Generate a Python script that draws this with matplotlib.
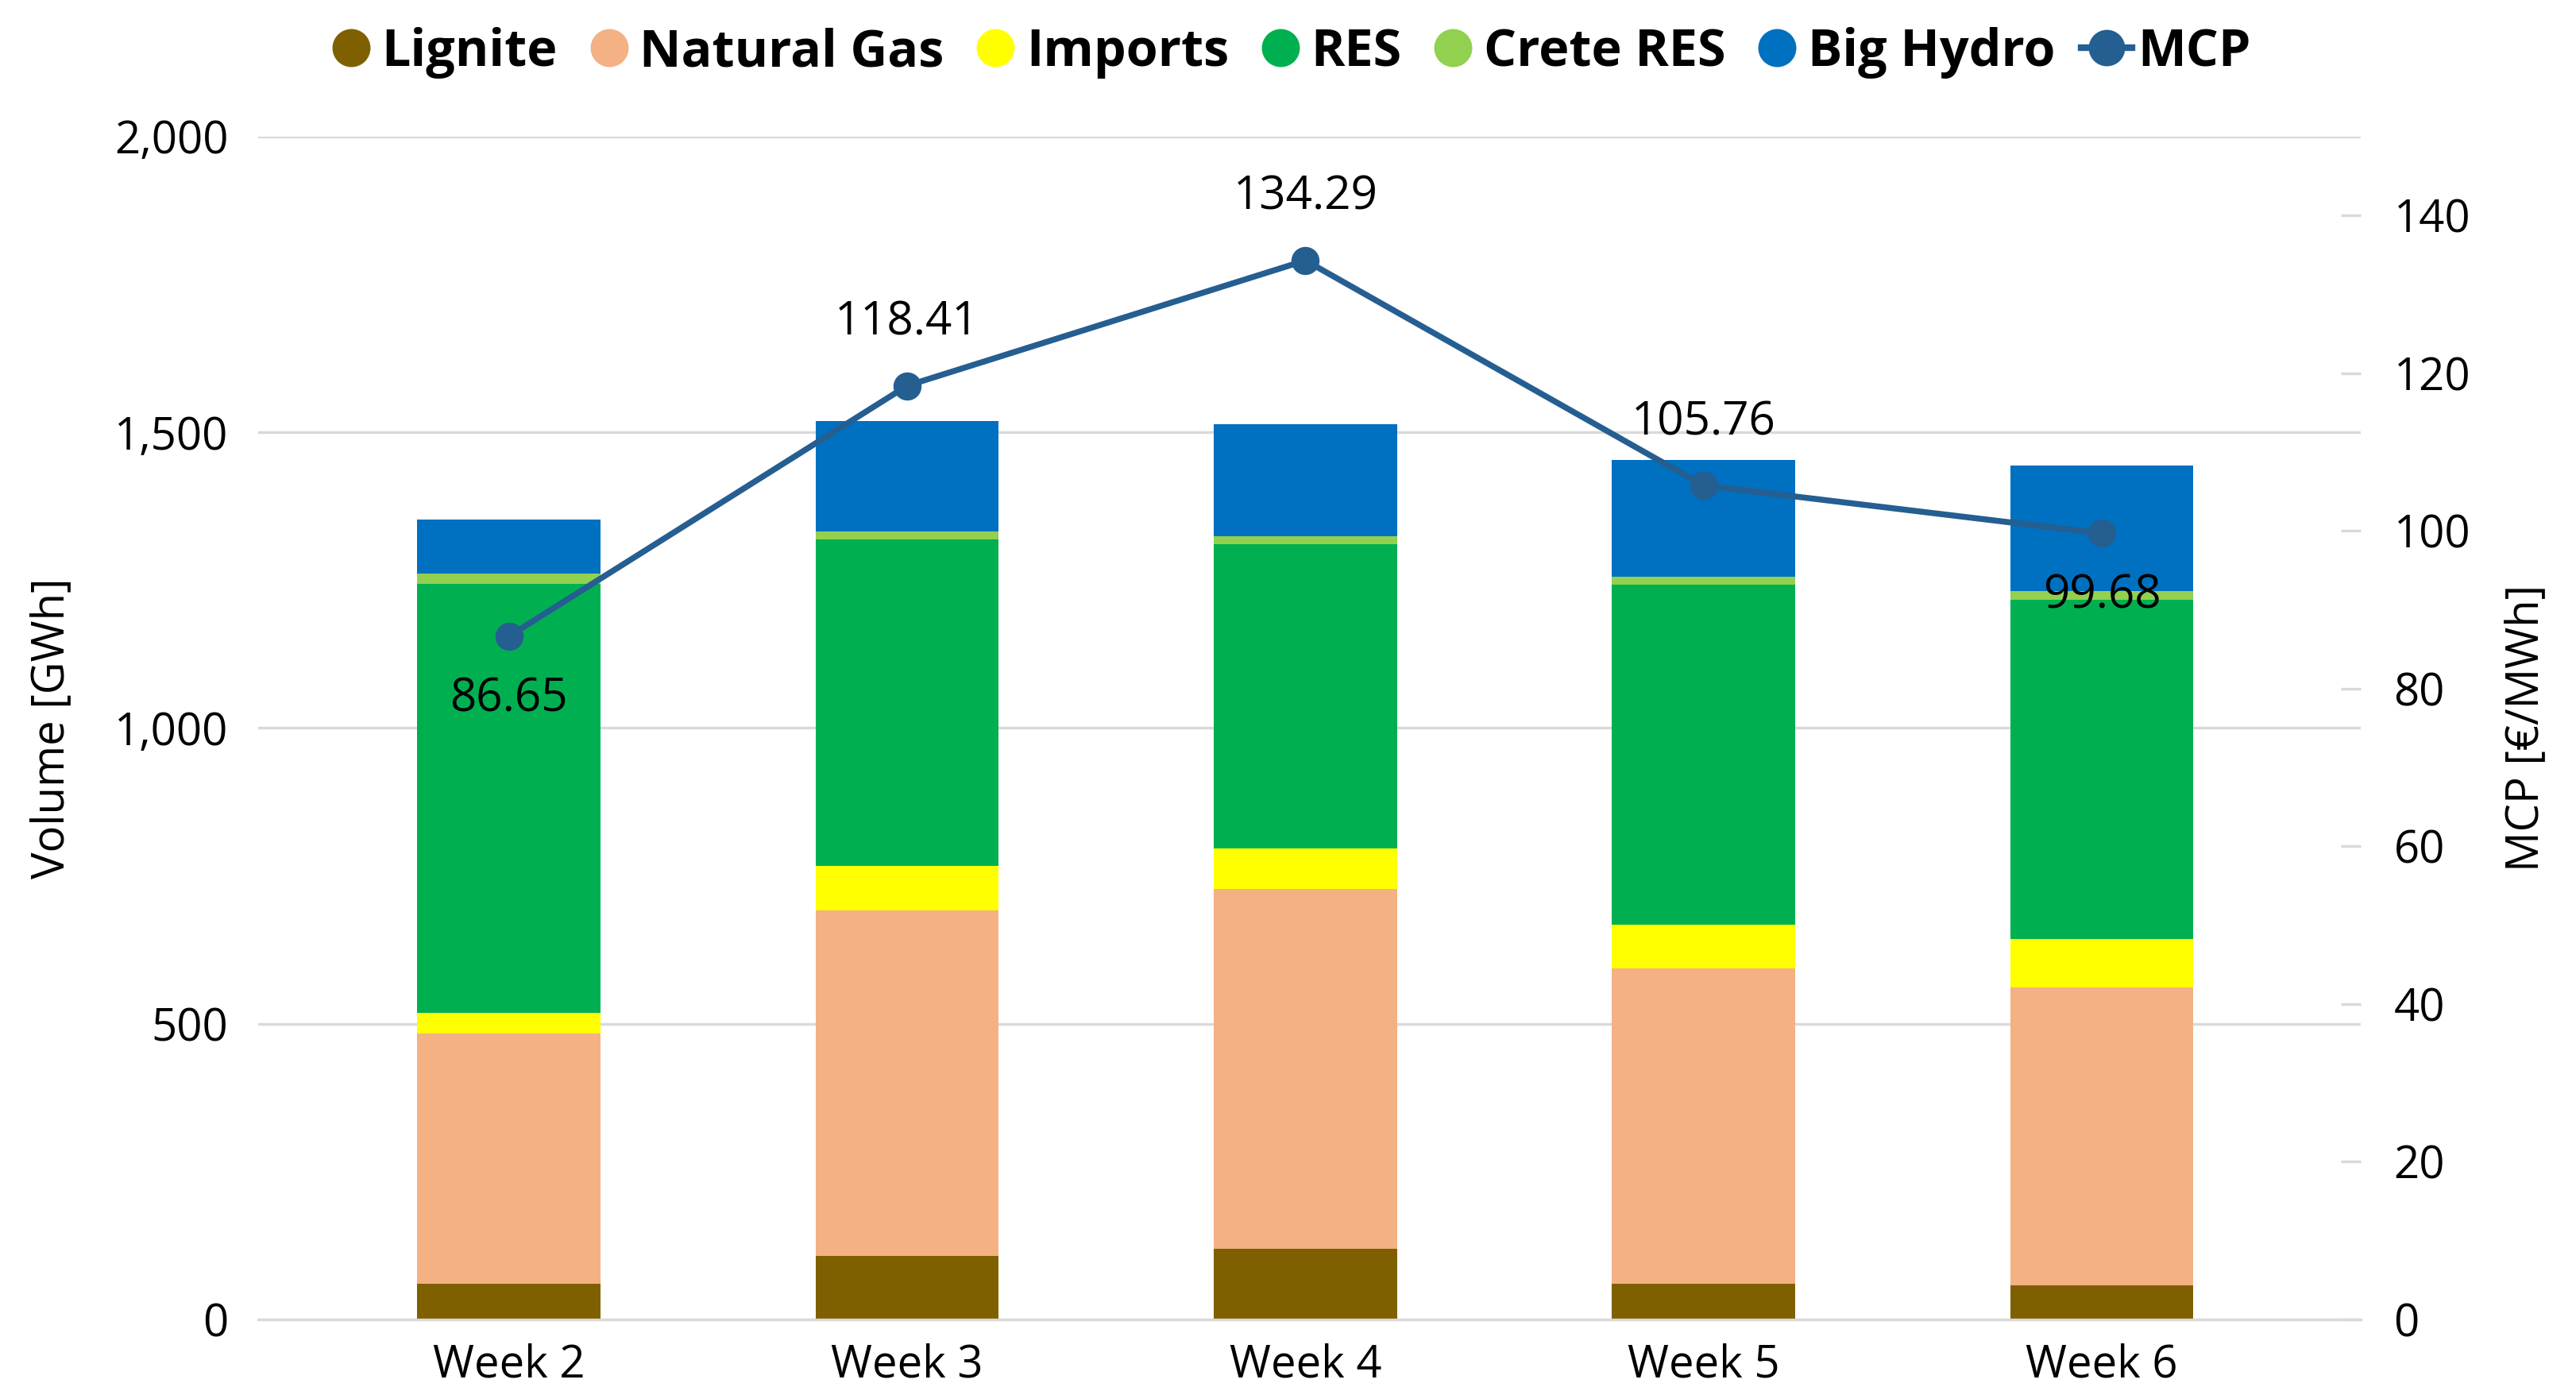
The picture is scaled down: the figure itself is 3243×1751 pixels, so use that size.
import numpy as np
import matplotlib
matplotlib.use("Agg")
import matplotlib.pyplot as plt
from matplotlib.lines import Line2D
from matplotlib.ticker import FuncFormatter

plt.rcParams['font.family'] = ['Open Sans', 'DejaVu Sans']

weeks = ['Week 2', 'Week 3', 'Week 4', 'Week 5', 'Week 6']
lignite = [61, 108, 119, 61, 58]
natural_gas = [422, 584, 609, 533, 503]
imports = [36, 75, 69, 73, 83]
res = [725, 552, 514, 575, 573]
crete_res = [17, 14, 14, 14, 14]
big_hydro = [92, 186, 189, 197, 213]
mcp = [86.65, 118.41, 134.29, 105.76, 99.68]

series = [
    ('Lignite', lignite, '#7F6000'),
    ('Natural Gas', natural_gas, '#F4B183'),
    ('Imports', imports, '#FFFF00'),
    ('RES', res, '#00B050'),
    ('Crete RES', crete_res, '#92D050'),
    ('Big Hydro', big_hydro, '#0070C0'),
]
line_color = '#255E91'
grid_color = '#D9D9D9'
fs = 13.5

fig = plt.figure(figsize=(3243 / 300, 1751 / 300), dpi=300)
ax = fig.add_axes([0.1002, 0.0514, 0.8162, 0.8504])
ax2 = ax.twinx()

x = np.arange(len(weeks))
bottom = np.zeros(len(weeks))
for name, vals, col in series:
    ax.bar(x, vals, 0.46, bottom=bottom, color=col, zorder=2)
    bottom += np.array(vals)

ax.set_ylim(0, 2000)
ax.set_yticks([0, 500, 1000, 1500, 2000])
ax.yaxis.set_major_formatter(FuncFormatter(lambda v, p: f'{int(v):,}'))
ax.set_xlim(-0.63, 4.65)
ax.set_xticks(x)
ax.set_xticklabels(weeks)
ax.grid(axis='y', color=grid_color, linewidth=0.8, zorder=0)
ax.set_axisbelow(True)
for s in ['left', 'right', 'top']:
    ax.spines[s].set_visible(False)
ax.spines['bottom'].set_color(grid_color)
ax.spines['bottom'].set_linewidth(0.8)
ax.tick_params(axis='y', length=0, pad=9, labelsize=fs)
ax.tick_params(axis='x', length=0, pad=7, labelsize=fs)
ax.set_ylabel('Volume [GWh]', fontsize=fs, labelpad=12)

ax2.plot(x, mcp, color=line_color, linewidth=1.8, marker='o', markersize=7.5, zorder=5)
ax2.set_ylim(0, 150)
ax2.set_yticks(range(0, 141, 20))
for s in ['left', 'right', 'top', 'bottom']:
    ax2.spines[s].set_visible(False)
ax2.tick_params(axis='y', direction='in', length=6, width=0.8, color=grid_color, pad=10, labelsize=fs)
ax2.set_ylabel('MCP [€/MWh]', fontsize=fs, labelpad=10)

offsets = [-19, 19, 19, 19, -19]
for xi, v, off in zip(x, mcp, offsets):
    ax2.annotate(f'{v:.2f}', (xi, v), xytext=(0, off), textcoords='offset points',
                 ha='center', va='center', fontsize=14, zorder=6)

handles = [Line2D([], [], linestyle='none', marker='o', markersize=10.5, color=c) for _, _, c in series]
handles.append(Line2D([], [], color=line_color, linewidth=2, marker='o', markersize=10))
labels = [n for n, _, _ in series] + ['MCP']
fig.legend(handles, labels, loc='center', bbox_to_anchor=(0.5, 0.962), ncol=7, frameon=False,
           prop={'weight': 'bold', 'size': 15.5}, handletextpad=0.1, columnspacing=0.5,
           handlelength=1.0)

fig.savefig('out.png', dpi=300)
